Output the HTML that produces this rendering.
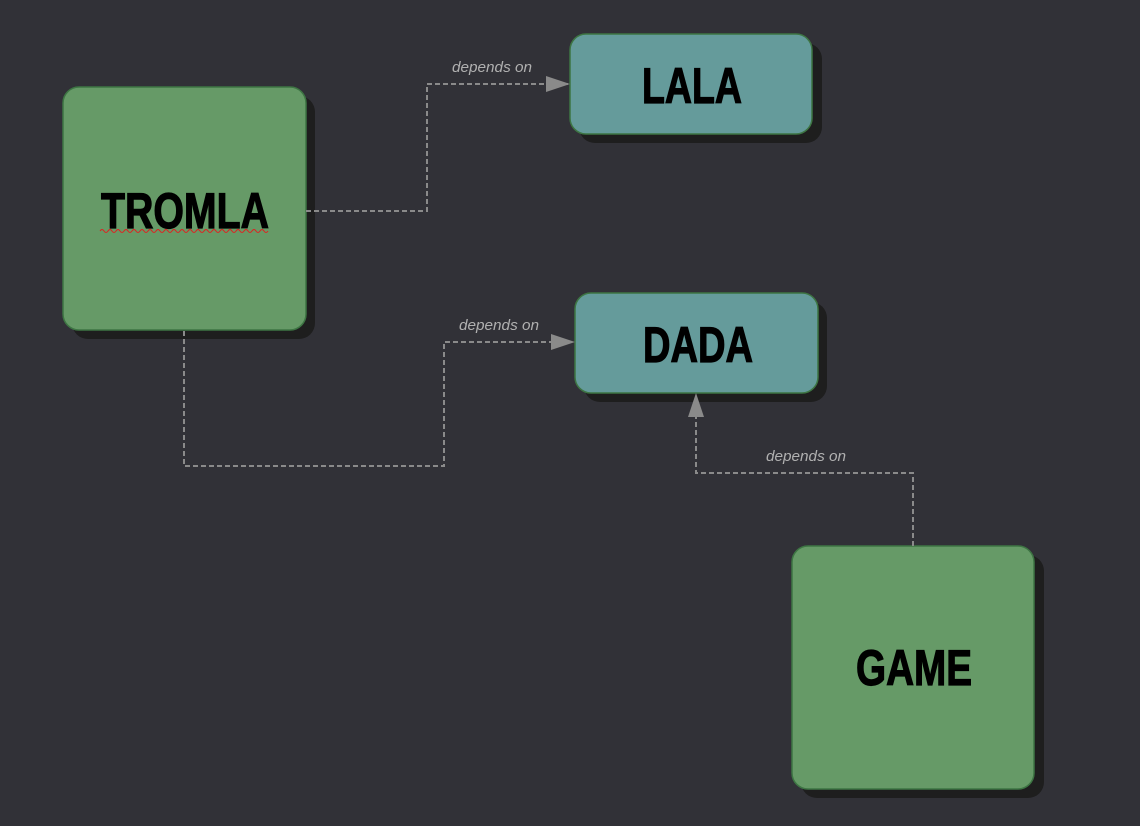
<!DOCTYPE html>
<html><head><style>html,body{margin:0;padding:0;background:#313137;}svg{display:block}</style></head>
<body>
<svg width="1140" height="826" viewBox="0 0 1140 826" xmlns="http://www.w3.org/2000/svg">
<rect width="1140" height="826" fill="#313137"/>
<defs><marker id="a" markerWidth="24" markerHeight="16" refX="22" refY="8" orient="auto" markerUnits="userSpaceOnUse"><path d="M0,0 L24,8 L0,16 Z" fill="#8a8a8a"/></marker></defs>
<g fill="#1e1e1e">
<rect x="72" y="96" width="243" height="243" rx="16"/>
<rect x="579" y="43" width="243" height="100" rx="16"/>
<rect x="584" y="302" width="243" height="100" rx="16"/>
<rect x="801" y="555" width="243" height="243" rx="16"/>
</g>
<g stroke="#3d7543" stroke-width="1.5">
<rect x="63" y="87" width="243" height="243" rx="16" fill="#669a67"/>
<rect x="570" y="34" width="242" height="100" rx="16" fill="#659b9b"/>
<rect x="575" y="293" width="243" height="100" rx="16" fill="#659b9b"/>
<rect x="792" y="546" width="242" height="243" rx="16" fill="#669a67"/>
</g>
<g fill="none" stroke="#8a8a8a" stroke-width="2" stroke-dasharray="5,3">
<polyline points="306,211 427,211 427,84 568,84" marker-end="url(#a)"/>
<polyline points="184,331 184,466 444,466 444,342 573,342" marker-end="url(#a)"/>
<polyline points="913,546 913,473 696,473 696,395" marker-end="url(#a)"/>
</g>
<g font-family="'Liberation Sans Narrow','Liberation Sans',sans-serif" font-weight="bold" font-size="50" fill="#000" stroke="#000" stroke-width="1.2" text-anchor="middle">
<text x="185" y="228" textLength="168" lengthAdjust="spacingAndGlyphs">TROMLA</text>
<text x="692" y="103" textLength="100" lengthAdjust="spacingAndGlyphs">LALA</text>
<text x="698" y="362" textLength="110" lengthAdjust="spacingAndGlyphs">DADA</text>
<text x="914" y="685" textLength="116" lengthAdjust="spacingAndGlyphs">GAME</text>
</g>
<path d="M100,231 q2,-3 4,0 t4,0 t4,0 t4,0 t4,0 t4,0 t4,0 t4,0 t4,0 t4,0 t4,0 t4,0 t4,0 t4,0 t4,0 t4,0 t4,0 t4,0 t4,0 t4,0 t4,0 t4,0 t4,0 t4,0 t4,0 t4,0 t4,0 t4,0 t4,0 t4,0 t4,0 t4,0 t4,0 t4,0 t4,0 t4,0 t4,0 t4,0 t4,0 t4,0 t4,0 t4,0" fill="none" stroke="#e02020" stroke-width="1"/>
<g font-family="'Liberation Sans Narrow','Liberation Sans',sans-serif" font-style="italic" font-size="15" fill="#b0b0b0" text-anchor="middle">
<text x="492" y="72" textLength="80" lengthAdjust="spacingAndGlyphs">depends on</text>
<text x="499" y="330" textLength="80" lengthAdjust="spacingAndGlyphs">depends on</text>
<text x="806" y="461" textLength="80" lengthAdjust="spacingAndGlyphs">depends on</text>
</g>
</svg>
</body></html>
